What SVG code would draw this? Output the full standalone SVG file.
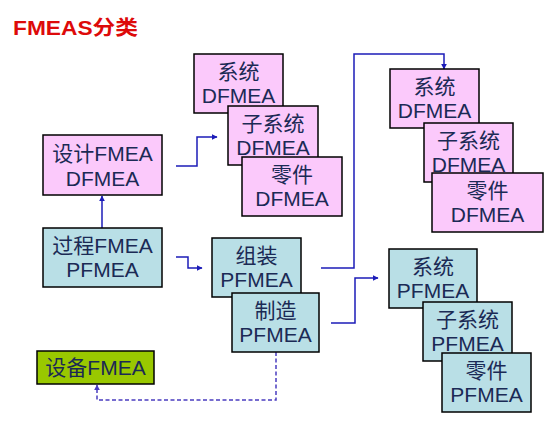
<svg xmlns="http://www.w3.org/2000/svg" width="553" height="430" viewBox="0 0 553 430">
<style>
.t{font-family:"Liberation Sans","Noto Sans CJK SC",sans-serif;font-size:21px;fill:#1b2a55;text-anchor:middle}
.pink{fill:#fbc9fb;stroke:#000;stroke-width:1.5}
.teal{fill:#b9dfe6;stroke:#000;stroke-width:1.5}
.green{fill:#99c800;stroke:#000;stroke-width:1.5}
.c{fill:none;stroke:#1c1cb8;stroke-width:1.5}
.d{fill:none;stroke:#4a3cc0;stroke-width:1.5;stroke-dasharray:4 2.5}
.title{font-family:"Liberation Sans","Noto Sans CJK SC",sans-serif;font-size:20px;font-weight:bold;fill:#dd0a0a}
</style>
<defs>
<marker id="ah" viewBox="0 0 10 10" refX="9" refY="5" markerWidth="4" markerHeight="4" orient="auto" markerUnits="strokeWidth">
<path d="M0,0L10,5L0,10z" fill="#1c1cb8"/>
</marker>
<marker id="ahd" viewBox="0 0 10 10" refX="9" refY="5" markerWidth="4" markerHeight="4" orient="auto" markerUnits="strokeWidth">
<path d="M0,0L10,5L0,10z" fill="#4a3cc0"/>
</marker>
</defs>
<rect width="553" height="430" fill="#fff"/>
<text class="title" x="13" y="35" textLength="125" lengthAdjust="spacingAndGlyphs">FMEAS分类</text>

<g id="connectors">
<path class="c" d="M102,228V196" marker-end="url(#ah)"/>
<path class="c" d="M176,166H197V137H217" marker-end="url(#ah)"/>
<path class="c" d="M176,257H188V268H202" marker-end="url(#ah)"/>
<path class="c" d="M321,268H354V54H444V69" marker-end="url(#ah)"/>
<path class="c" d="M331,323H355V278H378" marker-end="url(#ah)"/>
<path class="d" d="M276,352V400H97V385" marker-end="url(#ahd)"/>
</g>

<g id="design">
<rect class="pink" x="43" y="135" width="119" height="60"/>
<text class="t" x="102.5" y="161">设计FMEA</text>
<text class="t" x="102.5" y="186">DFMEA</text>
</g>
<g id="process">
<rect class="teal" x="43" y="228" width="119" height="59"/>
<text class="t" x="102.5" y="253">过程FMEA</text>
<text class="t" x="102.5" y="277">PFMEA</text>
</g>
<g id="equipment">
<rect class="green" x="37" y="351" width="117" height="33"/>
<text class="t" x="95.5" y="375">设备FMEA</text>
</g>

<g id="d-sys">
<rect class="pink" x="194" y="54" width="89" height="59"/>
<text class="t" x="238.5" y="79">系统</text>
<text class="t" x="238.5" y="103">DFMEA</text>
</g>
<g id="d-sub">
<rect class="pink" x="228" y="106" width="90" height="59"/>
<text class="t" x="273" y="131">子系统</text>
<text class="t" x="273" y="155">DFMEA</text>
</g>
<g id="d-part">
<rect class="pink" x="242" y="157" width="100" height="59"/>
<text class="t" x="292" y="182">零件</text>
<text class="t" x="292" y="206">DFMEA</text>
</g>

<g id="p-asm">
<rect class="teal" x="212" y="238" width="89" height="59"/>
<text class="t" x="256.5" y="263">组装</text>
<text class="t" x="256.5" y="287">PFMEA</text>
</g>
<g id="p-mfg">
<rect class="teal" x="232" y="293" width="87" height="59"/>
<text class="t" x="275.5" y="318">制造</text>
<text class="t" x="275.5" y="342">PFMEA</text>
</g>

<g id="rd-sys">
<rect class="pink" x="390" y="69" width="89" height="59"/>
<text class="t" x="434.5" y="94">系统</text>
<text class="t" x="434.5" y="118">DFMEA</text>
</g>
<g id="rd-sub">
<rect class="pink" x="424" y="123" width="89" height="59"/>
<text class="t" x="468.5" y="148">子系统</text>
<text class="t" x="468.5" y="172">DFMEA</text>
</g>
<g id="rd-part">
<rect class="pink" x="432" y="173" width="111" height="59"/>
<text class="t" x="487.5" y="198">零件</text>
<text class="t" x="487.5" y="222">DFMEA</text>
</g>

<g id="rp-sys">
<rect class="teal" x="389" y="249" width="88" height="59"/>
<text class="t" x="433" y="274">系统</text>
<text class="t" x="433" y="298">PFMEA</text>
</g>
<g id="rp-sub">
<rect class="teal" x="423" y="302" width="89" height="59"/>
<text class="t" x="467.5" y="327">子系统</text>
<text class="t" x="467.5" y="351">PFMEA</text>
</g>
<g id="rp-part">
<rect class="teal" x="442" y="353" width="89" height="59"/>
<text class="t" x="486.5" y="378">零件</text>
<text class="t" x="486.5" y="402">PFMEA</text>
</g>
</svg>
